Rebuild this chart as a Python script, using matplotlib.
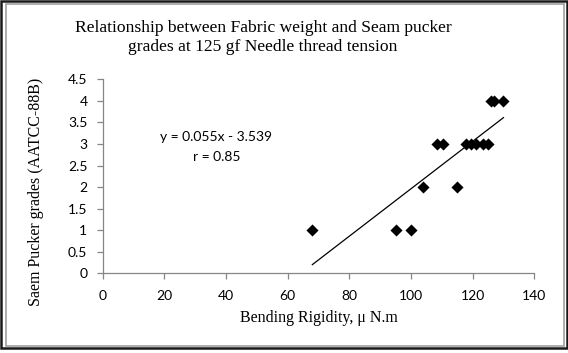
import matplotlib
matplotlib.use("Agg")
import matplotlib.pyplot as plt
from matplotlib.patches import Rectangle
import numpy as np

# data
rigidity = [68, 95, 100, 104, 108.5, 110.5, 115, 118, 119.5, 121, 123.5, 125, 126, 127, 130]
grades = [1, 1, 1, 2, 3, 3, 2, 3, 3, 3, 3, 3, 4, 4, 4]
slope, intercept = 0.055, -3.539
r_value = 0.85

xticks = [0, 20, 40, 60, 80, 100, 120, 140]
yticks = [0, 0.5, 1, 1.5, 2, 2.5, 3, 3.5, 4, 4.5]

title = "Relationship between Fabric weight and Seam pucker\ngrades at 125 gf Needle thread tension"
xlabel = "Bending Rigidity, \u03bc N.m"
ylabel = "Saem Pucker grades (AATCC-88B)"

W, H = 568, 353
fig = plt.figure(figsize=(W / 100, H / 100), dpi=100)

# chart frame (outer black, inner grey)
fig.patches.append(Rectangle((1 / W, 5 / H), 566 / W, 347 / H, transform=fig.transFigure,
                             fill=False, edgecolor="#1a1a1a", linewidth=1.8))
fig.patches.append(Rectangle((6 / W, 7.5 / H), 558 / W, 342 / H, transform=fig.transFigure,
                             fill=False, edgecolor="#a0a0a0", linewidth=1.2))

ax = fig.add_axes([102.7 / W, 1 - 273.3 / H, 431.6 / W, 194 / H])

ax.scatter(rigidity, grades, marker="D", s=38, color="black", zorder=3, linewidths=0)

xs = np.array([min(rigidity), max(rigidity)])
ax.plot(xs, slope * xs + intercept, color="black", linewidth=0.9)

ax.set_xlim(0, 140)
ax.set_ylim(0, 4.5)
ax.set_xticks(xticks)
ax.set_yticks(yticks)
ax.set_xticklabels([str(v) for v in xticks])
ax.set_yticklabels([("%g" % v) for v in yticks])

for s in ["top", "right"]:
    ax.spines[s].set_visible(False)
for s in ["left", "bottom"]:
    ax.spines[s].set_color("#868686")
    ax.spines[s].set_linewidth(0.9)
ax.tick_params(axis="both", colors="#868686", labelcolor="black", length=4, width=0.9,
               labelsize=10)
ax.tick_params(axis="x", pad=8)
ax.tick_params(axis="y", pad=7)
for lab in ax.get_xticklabels() + ax.get_yticklabels():
    lab.set_fontfamily("Lato")

ax.text(216.5 / W, 1 - 137 / H, "y = 0.055x - 3.539", transform=fig.transFigure,
        ha="center", va="center", fontsize=10, family="Lato")
ax.text(217 / W, 1 - 157 / H, "r = %.2f" % r_value, transform=fig.transFigure,
        ha="center", va="center", fontsize=10, family="Lato")

fig.text(263 / W, 1 - 37.5 / H, title, ha="center", va="center", fontsize=12.6,
         family="Liberation Serif", linespacing=1.2)
fig.text(318.5 / W, 1 - 318 / H, xlabel, ha="center", va="center", fontsize=11.5,
         family="Liberation Serif")
fig.text(36 / W, 1 - 191.5 / H, ylabel, ha="center", va="center", rotation=90,
         fontsize=11.5, family="Liberation Serif")

fig.savefig("out.png", dpi=100, facecolor="white")
